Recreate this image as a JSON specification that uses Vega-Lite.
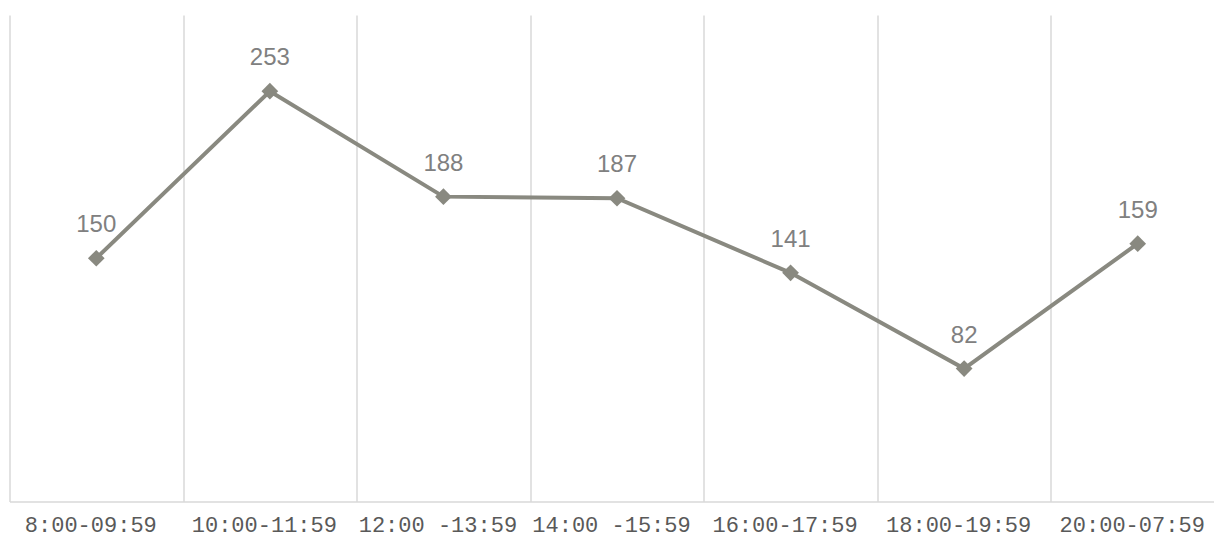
{
  "$schema": "https://vega.github.io/schema/vega-lite/v6.json",
  "width": 1215,
  "height": 486.5,
  "autosize": "none",
  "padding": {"left": 9.5, "top": 15, "right": -10.5, "bottom": 36.5},
  "background": "white",
  "config": {"view": {"stroke": null}},
  "data": {
    "values": [
      {"slot": "8:00-09:59", "count": 150},
      {"slot": "10:00-11:59", "count": 253},
      {"slot": "12:00 -13:59", "count": 188},
      {"slot": "14:00 -15:59", "count": 187},
      {"slot": "16:00-17:59", "count": 141},
      {"slot": "18:00-19:59", "count": 82},
      {"slot": "20:00-07:59", "count": 159}
    ]
  },
  "encoding": {
    "x": {
      "field": "slot",
      "type": "nominal",
      "sort": null,
      "title": null,
      "scale": {"type": "band", "paddingInner": 0, "paddingOuter": 0},
      "axis": {
        "tickBand": "extent",
        "grid": true,
        "gridColor": "#d9d9d9",
        "gridWidth": 1.5,
        "domainColor": "#d9d9d9",
        "domainWidth": 1.5,
        "ticks": false,
        "labelAngle": 0,
        "labelFont": "Liberation Mono",
        "labelFontSize": 22,
        "labelColor": "#595959",
        "labelPadding": 13,
        "labelOffset": -6
      }
    },
    "y": {
      "field": "count",
      "type": "quantitative",
      "scale": {"domain": [0, 300]},
      "axis": null
    }
  },
  "layer": [
    {
      "mark": {
        "type": "line",
        "color": "#898980",
        "strokeWidth": 4,
        "point": {"shape": "diamond", "filled": true, "size": 280, "color": "#898980", "opacity": 1}
      }
    },
    {
      "mark": {
        "type": "text",
        "dy": -33,
        "baseline": "middle",
        "font": "Liberation Sans",
        "fontSize": 24,
        "color": "#808080"
      },
      "encoding": {"text": {"field": "count", "type": "quantitative"}}
    }
  ]
}
